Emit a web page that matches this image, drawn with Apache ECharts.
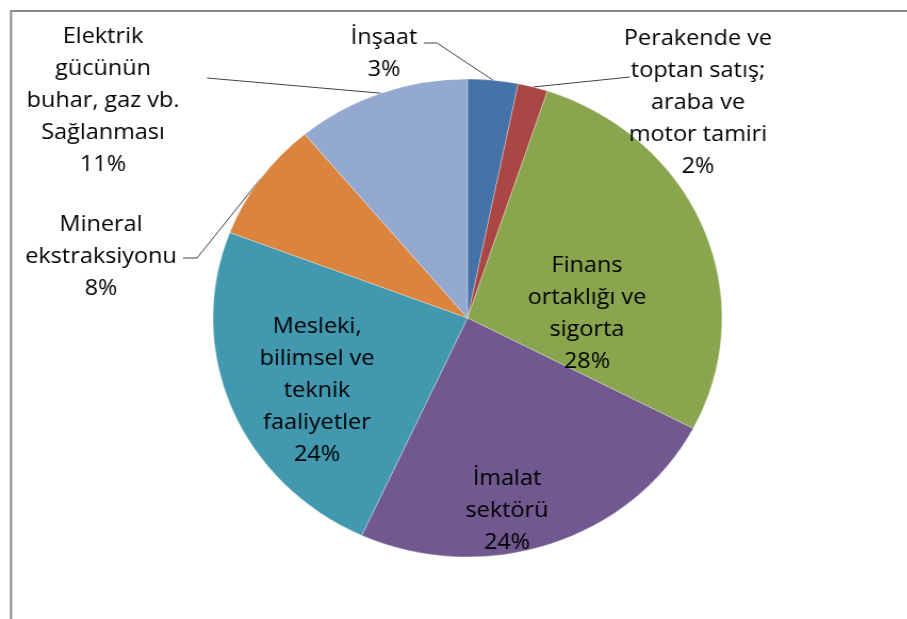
<!DOCTYPE html>
<html>
<head>
  <meta charset="utf-8">
  <title>Sektör dağılımı</title>
  <script src="https://cdn.jsdelivr.net/npm/echarts@6/dist/echarts.min.js"></script>
  <style>
    html, body { margin: 0; padding: 0; background: #fff; overflow: hidden; }
    #main { position: absolute; left: 0; top: 0; width: 852px; height: 619px; transform: scaleX(1.065); transform-origin: 0 0; }
  </style>
</head>
<body>
  <div id="main"></div>

  <script>
    // sectors, clockwise from 12 o'clock
    const sectors = [
      'İnşaat',
      'Perakende ve\ntoptan satış;\naraba ve\nmotor tamiri',
      'Finans\nortaklığı ve\nsigorta',
      'İmalat\nsektörü',
      'Mesleki,\nbilimsel ve\nteknik\nfaaliyetler',
      'Mineral\nekstraksiyonu',
      'Elektrik\ngücünün\nbuhar, gaz vb.\nSağlanması'
    ];
    const shares = [3.19, 1.90, 27.56, 24.17, 24.00, 8.14, 11.04];
    const colors = ['#4572A7', '#AA4643', '#89A54E', '#71588F', '#4198AF', '#DB843D', '#93A9CF'];
    const insideLabel = [false, false, true, true, true, false, false];

    // label placement (screen px, before the horizontal stretch)
    const SX = 1.065;
    const labelPos = [[384, 54], [698, 103], [587, 314], [507, 511], [317, 391], [101, 257], [103, 101]];
    const linePts = [
      [[437, 43], [424, 43]],
      [[630, 77], [630, 77]],
      null, null, null,
      [[197, 258], [183, 258]],
      [[207, 78], [207, 78]]
    ];

    const chart = echarts.init(document.getElementById('main'));
    const option = {
      animation: false,
      color: colors,
      graphic: [{
        type: 'polyline',
        shape: { points: [[11 / SX, 700], [11 / SX, 11], [1000, 11]] },
        style: { stroke: '#8a8a8a', lineWidth: 2, fill: null }
      }],
      series: [{
        type: 'pie',
        center: [467.5 / SX, 318],
        radius: 239,
        startAngle: 90,
        clockwise: true,
        avoidLabelOverlap: false,
        itemStyle: { borderColor: 'rgba(255,255,255,0.6)', borderWidth: 0.5 },
        label: {
          color: '#000',
          fontFamily: 'Open Sans',
          fontSize: 22,
          lineHeight: 32,
          formatter: p => p.name + '\n' + Math.round(p.percent) + '%'
        },
        labelLine: { lineStyle: { color: '#404040', width: 1 } },
        labelLayout: params => {
          const i = params.dataIndex;
          const out = {
            x: labelPos[i][0] / SX,
            y: labelPos[i][1],
            align: 'center',
            verticalAlign: 'middle'
          };
          if (linePts[i] && params.labelLinePoints) {
            const p0 = params.labelLinePoints[0];
            out.labelLinePoints = [p0].concat(linePts[i].map(p => [p[0] / SX, p[1]]));
          }
          return out;
        },
        data: sectors.map((name, i) => ({
          name: name,
          value: shares[i],
          label: { position: insideLabel[i] ? 'inside' : 'outside' },
          labelLine: { show: !insideLabel[i] }
        }))
      }]
    };
    chart.setOption(option);
  </script>
</body>
</html>
